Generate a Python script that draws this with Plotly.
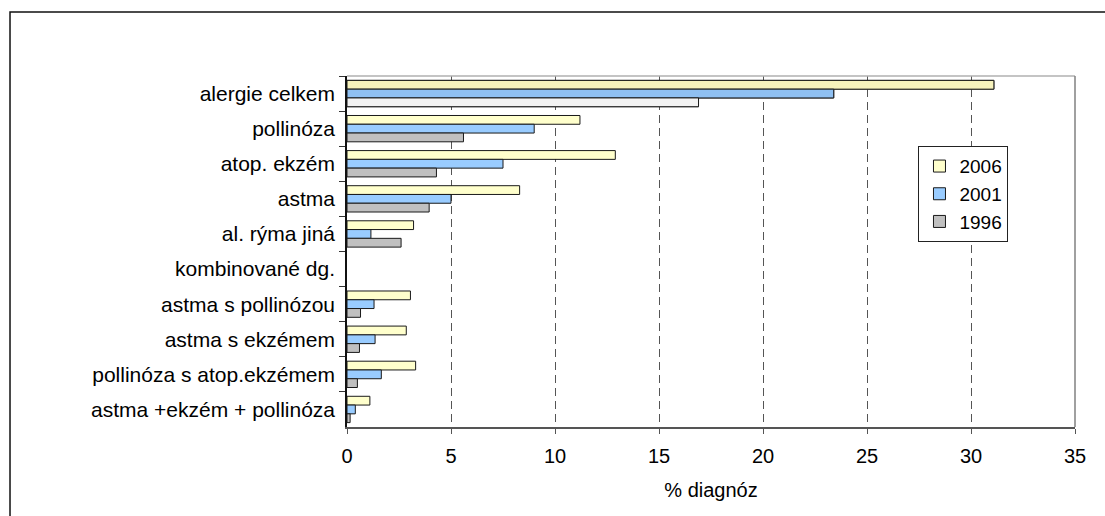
import plotly.graph_objects as go

# Diagnosis categories (top to bottom)
categories = [
    "alergie celkem",
    "pollinóza",
    "atop. ekzém",
    "astma",
    "al. rýma jiná",
    "kombinované dg.",
    "astma s pollinózou",
    "astma s ekzémem",
    "pollinóza s atop.ekzémem",
    "astma +ekzém + pollinóza",
]

# Share of diagnoses (%) per survey year
y2006 = [31.1, 11.2, 12.9, 8.3, 3.2, None, 3.05, 2.85, 3.3, 1.1]
y2001 = [23.4, 9.0, 7.5, 5.0, 1.15, None, 1.3, 1.35, 1.65, 0.4]
y1996 = [16.9, 5.6, 4.3, 3.95, 2.6, None, 0.65, 0.6, 0.5, 0.15]

years = ["2006", "2001", "1996"]
tick_vals = [0, 5, 10, 15, 20, 25, 30, 35]

FONT = "Liberation Sans, Arial, sans-serif"
base_colors = {"2006": "#FFFFCC", "2001": "#99CCFF", "1996": "#C0C0C0"}
# the aggregate row is drawn with shaded fills
first_colors = {"2006": "#F6F2BC", "2001": "#8FC0F2", "1996": "#F2F2F2"}
outline = dict(color="#1a1a1a", width=1)

fig = go.Figure()
for name, vals in zip(years, [y2006, y2001, y1996]):
    fig.add_trace(go.Bar(
        name=name,
        y=categories,
        x=vals,
        orientation="h",
        offsetgroup=name,
        legendgroup=name,
        marker=dict(color=base_colors[name], line=outline),
        hoverinfo="x+y+name",
    ))
# overlay for the aggregate row, sharing each year's bar slot
for name, vals in zip(years, [y2006, y2001, y1996]):
    fig.add_trace(go.Bar(
        name=name,
        y=categories[:1],
        x=vals[:1],
        orientation="h",
        offsetgroup=name,
        legendgroup=name,
        showlegend=False,
        marker=dict(color=first_colors[name], line=outline),
        hoverinfo="x+y+name",
    ))

fig.update_layout(
    width=1105,
    height=516,
    autosize=False,
    margin=dict(l=347, r=30, t=76, b=89),
    paper_bgcolor="white",
    plot_bgcolor="white",
    barmode="group",
    bargap=0.25,
    bargroupgap=0,
    font=dict(family=FONT, size=20, color="black"),
    showlegend=True,
    legend=dict(
        x=0.785, y=0.80, xanchor="left", yanchor="top",
        bgcolor="white", bordercolor="#222222", borderwidth=1,
        font=dict(family=FONT, size=19, color="black"),
        itemwidth=30, tracegroupgap=0, traceorder="normal",
    ),
    xaxis=dict(
        range=[0, 35],
        tickvals=tick_vals,
        ticktext=[str(v) for v in tick_vals],
        ticks="outside", ticklen=5, tickcolor="#555555", tickwidth=1,
        showgrid=True, gridcolor="#555555", gridwidth=1, griddash="8px,5px",
        showline=True, linecolor="#555555", linewidth=1.5,
        zeroline=False,
        ticklabelstandoff=5,
        title=dict(text="% diagnóz", standoff=17, font=dict(family=FONT, size=20)),
        tickfont=dict(family=FONT, size=20),
    ),
    yaxis=dict(
        type="category",
        categoryorder="array",
        categoryarray=categories,
        autorange="reversed",
        ticks="outside", tickson="boundaries", ticklen=6, tickcolor="#333333",
        showline=True, linecolor="#111111", linewidth=1.5,
        showgrid=False,
        ticklabelstandoff=6,
        tickfont=dict(family=FONT, size=21),
    ),
    shapes=[
        # plot area top and right edges
        dict(type="line", xref="paper", yref="paper", x0=0, x1=1, y0=1, y1=1,
             line=dict(color="#B0B0B0", width=1.5)),
        dict(type="line", xref="paper", yref="paper", x0=1, x1=1, y0=0, y1=1,
             line=dict(color="#808080", width=1.5)),
        # chart frame
        dict(type="rect", xref="paper", yref="paper",
             x0=-0.4629, x1=1.2, y0=-0.4, y1=1.1823,
             line=dict(color="#111111", width=1.5), fillcolor="rgba(0,0,0,0)",
             layer="below"),
    ],
)

fig.write_html("out.html")
